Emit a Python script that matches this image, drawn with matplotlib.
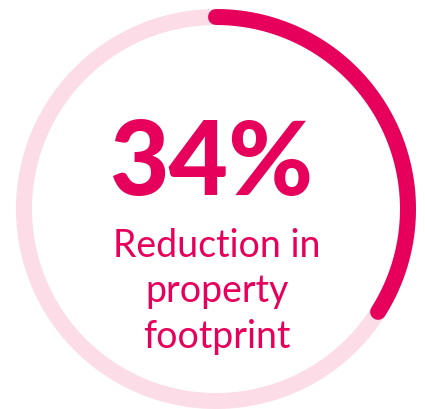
import numpy as np
import matplotlib
matplotlib.use('Agg')
import matplotlib.pyplot as plt

# 数据
value_pct = 34
value_label = "34%"
caption_lines = ["Reduction in", "property", "footprint"]

# 颜色
DARK_PINK = "#E6005C"
LIGHT_PINK = "#FBDCE7"

W, H = 425, 410
fig = plt.figure(figsize=(W / 100, H / 100), dpi=100)
ax = fig.add_axes([0, 0, 1, 1])
ax.set_xlim(0, W)
ax.set_ylim(H, 0)
ax.axis('off')

cx, cy, r = 216, 210, 192
lw = 11.5

# 背景圆环
t = np.linspace(0, 2 * np.pi, 400)
ax.plot(cx + r * np.sin(t), cy - r * np.cos(t), color=LIGHT_PINK, lw=lw)

# 进度弧（从顶部顺时针）
t = np.linspace(0, 2 * np.pi * value_pct / 100, 200)
ax.plot(cx + r * np.sin(t), cy - r * np.cos(t), color=DARK_PINK, lw=lw,
        solid_capstyle='round')

ax.text(211, 195, value_label, color=DARK_PINK, fontsize=74, fontweight='black',
        family='Lato', ha='center', va='baseline')
for i, line in enumerate(caption_lines):
    ax.text(217, 257 + i * 45.5, line, color=DARK_PINK, fontsize=27,
            family='Lato', ha='center', va='baseline')

fig.savefig('out.png', dpi=100)
